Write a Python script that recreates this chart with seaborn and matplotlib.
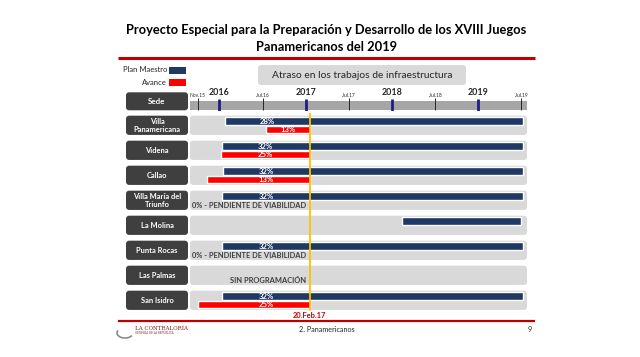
import numpy as np
import pandas as pd
import matplotlib
matplotlib.use("Agg")
import matplotlib.pyplot as plt
from matplotlib.patches import FancyBboxPatch, Rectangle, Arc
import seaborn as sns

sedes = ["Villa\nPanamericana", "Videna", "Callao", "Villa María del\nTriunfo",
         "La Molina", "Punta Rocas", "Las Palmas", "San Isidro"]
plan_inicio = [0.8, 0.3, 0.5, 0.4, 25.4, 0.4, np.nan, 0.4]
plan_fin = [42.2, 42.2, 42.2, 42.2, 42.0, 42.2, np.nan, 42.2]
avance_inicio = [6.5, 0.2, -1.8, np.nan, np.nan, np.nan, np.nan, -3.0]
pct_plan = ["28%", "32%", "32%", "32%", "", "32%", "", "32%"]
pct_avance = ["13%", "25%", "13%", "0% - PENDIENTE DE VIABILIDAD", "",
              "0% - PENDIENTE DE VIABILIDAD", "SIN PROGRAMACIÓN", "25%"]
corte = 12.6
corte_label = "20.Feb.17"
ticks_anio = [0, 12, 24, 36]
labels_anio = ["2016", "2017", "2018", "2019"]
ticks_mes = [-3.0, 6, 18, 30, 42]
labels_mes = ["Nov.15", "Jul.16", "Jul.17", "Jul.18", "Jul.19"]

df = pd.DataFrame({"sede": sedes, "plan_ini": plan_inicio, "plan_fin": plan_fin,
                   "av_ini": avance_inicio, "pct_plan": pct_plan, "pct_av": pct_avance})
df["fila"] = np.arange(len(df))

sns.set_theme(style="white")
plt.rcParams["font.family"] = ["Lato", "DejaVu Sans"]

NAVY = "#1f3864"
RED = "#ff0000"
DARK = "#3f3f3f"
TRACK = "#d9d9d9"
XMIN, XMAX = -4.1, 42.8

W, H = 640, 357
fig = plt.figure(figsize=(6.4, 3.57), dpi=100)


def rect(l, t, r, b):
    return [l / W, 1 - b / H, (r - l) / W, (b - t) / H]


# capa de fondo en pixeles
bg = fig.add_axes([0, 0, 1, 1])
bg.set_xlim(0, W)
bg.set_ylim(H, 0)
bg.axis("off")

bg.text(326, 30, "Proyecto Especial para la Preparación y Desarrollo de los XVIII Juegos",
        ha="center", va="center", fontsize=9.3, fontweight="bold", color="black")
bg.text(326, 47, "Panamericanos del 2019", ha="center", va="center",
        fontsize=9.3, fontweight="bold", color="black")
bg.plot([118, 535], [58, 58], color="#c00000", lw=2.2, solid_capstyle="butt")
bg.plot([118, 535], [321, 321], color="#c00000", lw=1.6, solid_capstyle="butt")

# leyenda
bg.text(167, 70, "Plan Maestro", ha="right", va="center", fontsize=5.5, color="#262626")
bg.add_patch(Rectangle((169, 67), 17, 6.5, fc=NAVY, ec="none"))
bg.text(167, 82.5, "Avance", ha="right", va="center", fontsize=5.5, color="#262626")
bg.add_patch(Rectangle((169, 79), 17, 7, fc=RED, ec="none"))

bg.add_patch(FancyBboxPatch((258, 65), 208, 20, boxstyle="round,pad=0,rounding_size=3",
                            fc=TRACK, ec="none"))
bg.text(362, 75.5, "Atraso en los trabajos de infraestructura", ha="center", va="center",
        fontsize=7.4, color="#262626")

bg.add_patch(FancyBboxPatch((126, 92.3), 62, 18, boxstyle="round,pad=0,rounding_size=3",
                            fc=DARK, ec="none"))
bg.text(157, 101.5, "Sede", ha="center", va="center", fontsize=5.8,
        fontweight="bold", color="white")

bg.text(309, 315, corte_label, ha="center", va="center", fontsize=5.4,
        fontweight="bold", color="#c00000")

# pie de pagina
bg.add_patch(Arc((125, 333), 16, 10, theta1=20, theta2=200, color="#8c8c8c", lw=1.2))
bg.text(135, 328.5, "LA CONTRALORÍA", ha="left", va="center", fontsize=4,
        family="DejaVu Serif", color="#7f1f1f")
bg.text(135, 333, "GENERAL DE LA REPÚBLICA", ha="left", va="center", fontsize=1.8,
        family="DejaVu Serif", color="#7f1f1f")
bg.text(327, 330, "2. Panamericanos", ha="center", va="center", fontsize=5.2, color="#262626")
bg.text(530, 330, "9", ha="center", va="center", fontsize=5.2, color="#262626")

# linea de tiempo
hd = fig.add_axes(rect(190, 86, 527, 111))
hd.set_xlim(XMIN, XMAX)
hd.set_ylim(25, 0)
hd.axis("off")
hd.patch.set_alpha(0)
hd.add_patch(Rectangle((XMIN, 14.7), XMAX - XMIN, 9.3, fc="#a6a6a6", ec="none"))
hd.vlines(ticks_mes, 11.7, 24, color="#262626", lw=0.7)
hd.vlines(ticks_anio, 13.3, 24.7, color="#1c1c8a", lw=2.0)
for t, lab in zip(ticks_anio, labels_anio):
    hd.text(t, 6.3, lab, ha="center", va="center", fontsize=6.4, fontweight="bold",
            color="#262626")
for t, lab in zip(ticks_mes, labels_mes):
    hd.text(t, 9.3, lab, ha="center", va="center", fontsize=3.5, color="#262626")

# etiquetas de sede
lab_ax = fig.add_axes(rect(126, 112.8, 188, 312.8))
lab_ax.set_xlim(0, 1)
lab_ax.set_ylim(7.5, -0.5)
lab_ax.axis("off")
lab_ax.patch.set_alpha(0)
for _, r in df.iterrows():
    lab_ax.add_patch(FancyBboxPatch((0, r.fila - 0.385), 1, 0.77,
                                    boxstyle="round,pad=0,rounding_size=0.05",
                                    mutation_aspect=2.48, fc=DARK, ec="none"))
    lab_ax.text(0.5, r.fila, r.sede, ha="center", va="center", fontsize=5.4,
                color="white", fontweight="bold", linespacing=1.15)

# gantt
ax = fig.add_axes(rect(190, 112.8, 527, 312.8))
ax.set_xlim(XMIN, XMAX)
ax.set_ylim(7.5, -0.5)
ax.axis("off")
ax.patch.set_alpha(0)
for i in df.fila:
    ax.add_patch(FancyBboxPatch((XMIN, i - 0.385), XMAX - XMIN, 0.77,
                                boxstyle="round,pad=0,rounding_size=0.45",
                                mutation_aspect=0.288, fc=TRACK, ec="none"))

ax.barh(df.fila - 0.165, df.plan_fin - df.plan_ini, left=df.plan_ini, height=0.31,
        color=NAVY, zorder=3)
ax.barh(df.fila + 0.17, corte - df.av_ini, left=df.av_ini, height=0.29,
        color=RED, zorder=3)
ax.axvline(corte, ymin=0.014, ymax=1, color="#ffc000", lw=1.3, zorder=5)

for _, r in df.iterrows():
    if r.pct_plan:
        xm_plan = (r.plan_ini + corte) / 2
        ax.text(xm_plan, r.fila - 0.165, r.pct_plan, ha="center", va="center",
                fontsize=5.6, fontweight="bold", color="white", zorder=4)
    if not r.pct_av:
        continue
    if np.isnan(r.av_ini):
        ax.text(corte - 0.5, r.fila + 0.2, r.pct_av, ha="right", va="center",
                fontsize=5.4, fontweight="bold", color=DARK, zorder=4)
    else:
        xm = max((r.av_ini + corte) / 2, (r.plan_ini + corte) / 2)
        ax.text(xm, r.fila + 0.17, r.pct_av, ha="center", va="center",
                fontsize=5.6, fontweight="bold", color="white", zorder=4)

fig.savefig("out.png", dpi=100, facecolor="white")
